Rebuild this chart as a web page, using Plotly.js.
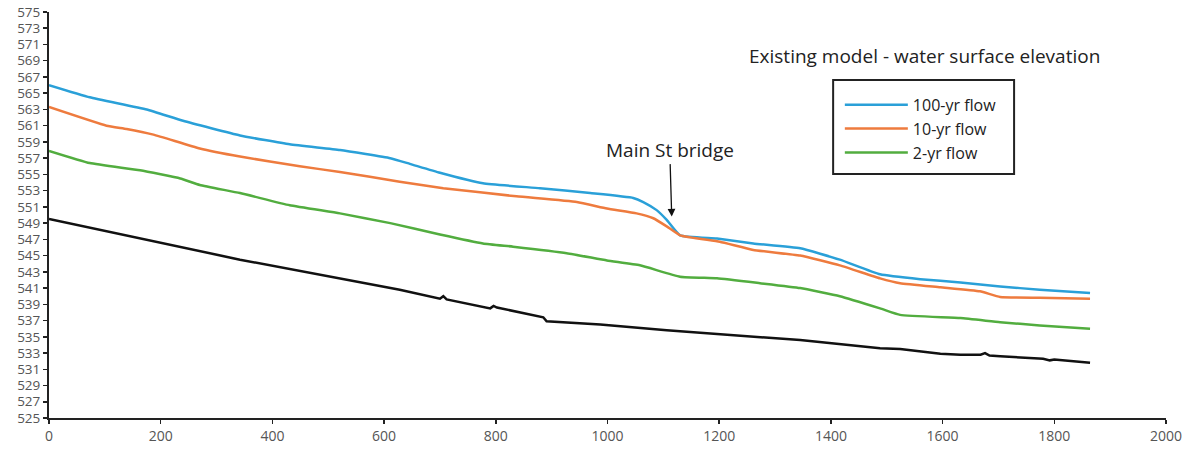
<!DOCTYPE html>
<html>
<head>
<meta charset="utf-8">
<script src="https://cdn.plot.ly/plotly-3.0.1.min.js"></script>
<style>
  html, body { margin: 0; padding: 0; background: #fff; }
  #chart { width: 1187px; height: 449px; }
</style>
</head>
<body>
<div id="chart"></div>
<script>
// Station (ft along channel) and water surface elevation for each flow
const x100 = [0, 73, 175, 240, 342, 431, 521, 611, 646, 700, 777, 879, 969, 1046, 1064, 1088, 1106, 1130, 1196, 1261, 1345, 1416, 1488, 1560, 1632, 1703, 1774, 1864];
const y100 = [566.0, 564.5, 563.0, 561.6, 559.8, 558.7, 558.0, 557.0, 556.3, 555.2, 553.9, 553.3, 552.7, 552.1, 551.6, 550.6, 549.4, 547.5, 547.1, 546.5, 545.9, 544.5, 542.7, 542.1, 541.7, 541.2, 540.8, 540.4];

const x10 = [0, 103, 139, 187, 270, 342, 449, 521, 628, 706, 837, 945, 999, 1052, 1082, 1106, 1130, 1201, 1261, 1345, 1416, 1488, 1524, 1596, 1667, 1703, 1774, 1864];
const y10 = [563.3, 561.0, 560.6, 559.9, 558.2, 557.2, 556.0, 555.3, 554.1, 553.3, 552.3, 551.6, 550.8, 550.2, 549.6, 548.6, 547.5, 546.7, 545.7, 545.0, 543.8, 542.2, 541.6, 541.1, 540.6, 539.9, 539.8, 539.7];

const x2 = [0, 73, 163, 235, 270, 342, 431, 521, 611, 700, 777, 831, 927, 999, 1058, 1130, 1196, 1273, 1345, 1416, 1488, 1524, 1632, 1703, 1774, 1864];
const y2 = [557.9, 556.4, 555.5, 554.5, 553.7, 552.7, 551.2, 550.2, 549.0, 547.6, 546.5, 546.1, 545.3, 544.4, 543.8, 542.4, 542.2, 541.6, 541.0, 540.0, 538.5, 537.7, 537.3, 536.8, 536.4, 536.0];

// Channel bed profile
const xBed = [0, 342, 628, 700, 706, 712, 790, 796, 802, 885, 891, 987, 1106, 1345, 1488, 1524, 1596, 1632, 1668, 1676, 1684, 1703, 1780, 1792, 1800, 1864];
const yBed = [549.5, 544.5, 540.8, 539.7, 540.0, 539.6, 538.5, 538.8, 538.6, 537.4, 536.9, 536.5, 535.8, 534.6, 533.6, 533.5, 532.9, 532.8, 532.8, 533.0, 532.7, 532.6, 532.3, 532.1, 532.2, 531.8];

const seriesNames = ["100-yr flow", "10-yr flow", "2-yr flow"];
const chartTitle = "Existing model - water surface elevation";
const bridgeLabel = "Main St bridge";
const bridgeStation = 1115;
const bridgeElevation = 549.8;

const FONT = "Open Sans, Arial, sans-serif";
const smooth = { shape: "spline", smoothing: 0.4 };

const traces = [
  { x: x100, y: y100, name: seriesNames[0], mode: "lines",
    line: Object.assign({ color: "#2aa0d8", width: 2.5 }, smooth) },
  { x: x10, y: y10, name: seriesNames[1], mode: "lines",
    line: Object.assign({ color: "#ee7b3e", width: 2.5 }, smooth) },
  { x: x2, y: y2, name: seriesNames[2], mode: "lines",
    line: Object.assign({ color: "#52ad3f", width: 2.5 }, smooth) },
  { x: xBed, y: yBed, name: "bed", mode: "lines", showlegend: false,
    line: { color: "#111111", width: 2.5 } }
];

const layout = {
  width: 1187, height: 449,
  margin: { l: 49, r: 21, t: 12, b: 31 },
  paper_bgcolor: "#ffffff",
  plot_bgcolor: "#ffffff",
  font: { family: FONT, color: "#333" },
  title: {
    text: chartTitle,
    xref: "container", yref: "container",
    x: 0.779, xanchor: "center",
    y: 0.875, yanchor: "middle",
    font: { family: FONT, size: 19, color: "#222" }
  },
  xaxis: {
    range: [0, 2000], dtick: 200, tick0: 0,
    showgrid: false, zeroline: false,
    showline: true, linecolor: "#222", linewidth: 2,
    ticks: "outside", ticklen: 4, tickwidth: 1.5, tickcolor: "#222",
    tickfont: { family: FONT, size: 14, color: "#555" }
  },
  yaxis: {
    range: [525, 575], dtick: 2, tick0: 525,
    showgrid: false, zeroline: false,
    showline: true, linecolor: "#222", linewidth: 2,
    ticks: "outside", ticklen: 4, tickwidth: 1.5, tickcolor: "#222",
    tickfont: { family: FONT, size: 13.5, color: "#555" }
  },
  showlegend: true,
  legend: {
    x: 0.708, y: 0.813, xanchor: "left", yanchor: "top",
    bgcolor: "rgba(0,0,0,0)", borderwidth: 0,
    itemwidth: 63,
    tracegroupgap: 0,
    font: { family: FONT, size: 16, color: "#222" }
  },
  shapes: [
    { type: "rect", xref: "paper", yref: "paper",
      x0: 0.702, x1: 0.864, y0: 0.601, y1: 0.8325,
      line: { color: "#222", width: 2 }, fillcolor: "rgba(0,0,0,0)" }
  ],
  annotations: [
    { x: bridgeStation, y: bridgeElevation, xref: "x", yref: "y",
      text: bridgeLabel, showarrow: true,
      ax: -2, ay: -67,
      arrowhead: 2, arrowsize: 1.2, arrowwidth: 1.3, arrowcolor: "#111",
      font: { family: FONT, size: 19, color: "#222" } }
  ]
};

Plotly.newPlot("chart", traces, layout, { staticPlot: true, displayModeBar: false });
</script>
</body>
</html>
